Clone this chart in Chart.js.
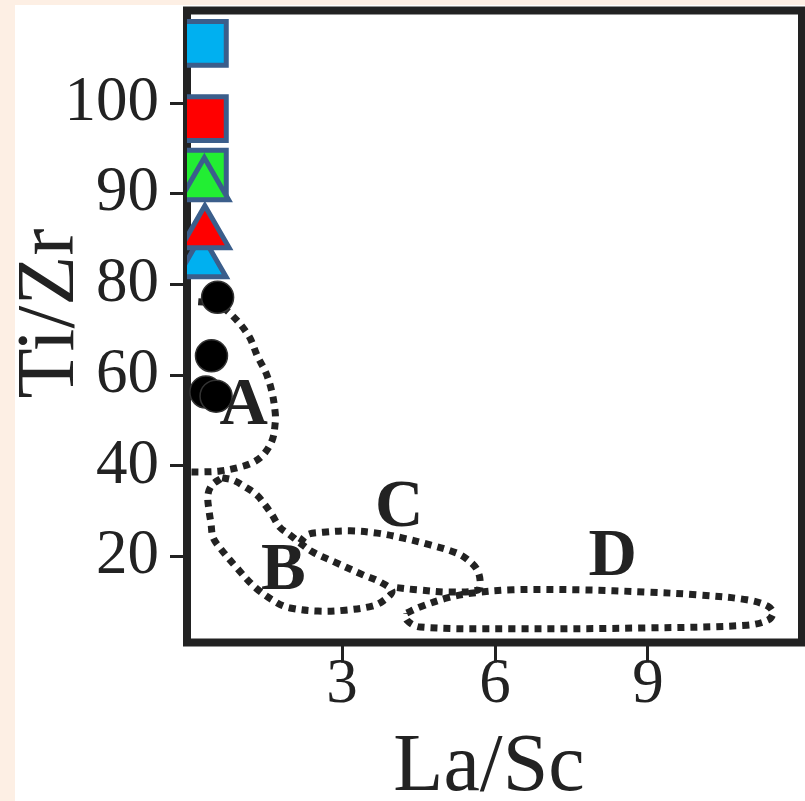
<!DOCTYPE html>
<html>
<head>
<meta charset="utf-8">
<script src="https://cdn.jsdelivr.net/npm/chart.js@4.4.1/dist/chart.umd.min.js"></script>
<style>
  html, body { margin: 0; padding: 0; background: #fdefe4; }
  #wrap { position: absolute; left: 15px; top: 5px; width: 790px; height: 796px; background: #fff; }
</style>
</head>
<body>
<div id="wrap"><canvas id="chart" width="790" height="796"></canvas></div>
<script>
// La/Sc (x) vs Ti/Zr (y); y axis is 20 per step up to 80, then 10 per step
const xTicks = [3, 6, 9];
const yTicks = [20, 40, 60, 80, 90, 100];

const circleX = [0.56, 0.44, 0.33, 0.53];
const circleY = [77.2, 64.3, 56.3, 55.4];

const squareX = [0.30, 0.30, 0.30];
const squareY = [106.6, 98.3, 92.4];
const squareColors = ['#00b0f0', '#ff0000', '#22ee33'];

// drawn in this order, last one on top
const triangleX = [0.25, 0.31, 0.30];
const triangleY = [82.4, 85.6, 90.9];
const triangleColors = ['#00b0f0', '#ff0000', '#22ee33'];

const fieldNames = ['A', 'B', 'C', 'D'];
const fieldLabelX = [1.07, 1.85, 4.12, 8.31];
const fieldLabelY = [53.1, 16.7, 30.6, 19.8];

const fieldA = [[0.18, 76.2], [0.51, 75.9], [0.80, 73.7], [1.16, 68.9], [1.35, 64.0], [1.51, 60.5],
  [1.63, 56.1], [1.69, 51.7], [1.69, 49.5], [1.63, 45.7], [1.45, 42.4], [1.24, 40.7],
  [0.94, 39.6], [0.61, 38.9], [0.27, 38.7], [0.02, 38.7]];
const fieldB = [[0.65, 37.4], [0.86, 36.9], [1.10, 35.4], [1.33, 33.6], [1.49, 31.4], [1.63, 29.2],
  [1.78, 26.5], [1.98, 24.8], [2.18, 23.0], [2.43, 21.0], [2.86, 18.8], [3.41, 16.0],
  [3.75, 14.4], [3.98, 12.4], [3.80, 10.2], [3.59, 9.1], [3.06, 8.2], [2.53, 8.0],
  [1.98, 8.7], [1.73, 9.8], [1.31, 13.1], [0.94, 17.5], [0.61, 21.9], [0.47, 24.3],
  [0.43, 27.4], [0.39, 30.3], [0.37, 33.6], [0.45, 35.8], [0.65, 37.4]];
const fieldC = [[2.18, 23.0], [2.31, 24.8], [2.63, 25.4], [3.16, 25.7], [3.69, 25.2], [4.20, 24.1],
  [4.73, 22.6], [5.25, 20.8], [5.47, 19.3], [5.65, 17.1], [5.71, 14.4], [5.67, 12.7],
  [5.12, 12.2], [4.47, 12.7], [4.06, 13.2]];
const fieldD = [[4.27, 7.6], [4.53, 8.9], [5.06, 10.9], [5.57, 12.0], [6.35, 12.7], [7.67, 12.7],
  [8.98, 12.2], [9.96, 11.6], [10.94, 10.5], [11.35, 9.1], [11.45, 7.6], [11.35, 6.0],
  [10.94, 4.9], [8.98, 4.3], [6.35, 4.1], [4.53, 4.5], [4.27, 6.0], [4.27, 7.6]];

const yPos = v => v <= 80 ? v / 20 : 4 + (v - 80) / 10;
const pts = (xs, ys) => xs.map((x, i) => ({ x, y: yPos(ys[i]) }));
const pairs = arr => arr.map(p => ({ x: p[0], y: yPos(p[1]) }));

const INK = '#222';
const EDGE = '#3b5e8b';

function outline(data) {
  return {
    data: pairs(data),
    showLine: true,
    pointRadius: 0,
    borderColor: INK,
    borderWidth: 7,
    borderDash: [7, 6],
    borderCapStyle: 'butt',
    tension: 0.35,
    fill: false,
  };
}

// the labels never sit at the axis ends, so no extra room is needed for them
function noPadding(s) {
  s.paddingLeft = s.paddingRight = s.paddingTop = s.paddingBottom = 0;
}

const frameAndText = {
  id: 'frameAndText',
  beforeDatasetsDraw(chart) {
    const { ctx, chartArea: a } = chart;
    ctx.save();
    ctx.strokeStyle = INK;
    ctx.lineWidth = 8;
    ctx.strokeRect(a.left, a.top, a.right - a.left, a.bottom - a.top);
    ctx.restore();
  },
  afterDatasetsDraw(chart) {
    const { ctx, scales } = chart;
    ctx.save();
    ctx.fillStyle = INK;
    ctx.textAlign = 'center';
    ctx.textBaseline = 'middle';
    ctx.font = 'bold 67px "Liberation Serif"';
    fieldNames.forEach((n, i) => {
      ctx.fillText(n, scales.x.getPixelForValue(fieldLabelX[i]),
        scales.y.getPixelForValue(yPos(fieldLabelY[i])));
    });
    ctx.font = '82px "Liberation Serif"';
    ctx.textBaseline = 'alphabetic';
    ctx.fillText('La/Sc', 474, 785);
    ctx.translate(58, 308.5);
    ctx.rotate(-Math.PI / 2);
    ctx.fillText('Ti/Zr', 0, 0);
    ctx.restore();
  }
};

const tickFont = { family: '"Liberation Serif"', size: 63, lineHeight: 1 };

new Chart(document.getElementById('chart'), {
  type: 'scatter',
  data: {
    datasets: [
      {
        data: pts(triangleX, triangleY),
        pointStyle: 'triangle',
        pointRadius: 28,
        backgroundColor: triangleColors,
        borderColor: EDGE,
        borderWidth: 5,
      },
      {
        data: pts(squareX, squareY),
        pointStyle: 'rect',
        pointRadius: 31,
        backgroundColor: squareColors,
        borderColor: EDGE,
        borderWidth: 5,
      },
      {
        data: pts(circleX, circleY),
        pointStyle: 'circle',
        pointRadius: 16,
        backgroundColor: '#000',
        borderColor: '#333',
        borderWidth: 1.5,
      },
      outline(fieldA),
      outline(fieldB),
      outline(fieldC),
      outline(fieldD),
    ]
  },
  options: {
    responsive: false,
    animation: false,
    events: [],
    layout: { autoPadding: false, padding: { top: 5.5, right: 3, left: 0, bottom: 0 } },
    plugins: { legend: { display: false }, tooltip: { enabled: false } },
    scales: {
      x: {
        type: 'linear',
        min: -0.04,
        max: 12.02,
        afterFit: s => { s.height = 158.5; noPadding(s); },
        afterBuildTicks: s => { s.ticks = xTicks.map(v => ({ value: v })); },
        grid: { drawOnChartArea: false, drawTicks: true, tickLength: 20, tickWidth: 3, tickColor: INK },
        border: { display: false },
        ticks: { font: tickFont, color: INK, padding: -9, maxRotation: 0 },
      },
      y: {
        type: 'linear',
        min: 0.054,
        max: 7.022,
        afterFit: s => { s.width = 172; noPadding(s); },
        afterBuildTicks: s => { s.ticks = yTicks.map(v => ({ value: yPos(v) })); },
        grid: { drawOnChartArea: false, drawTicks: true, tickLength: 17, tickWidth: 3, tickColor: INK },
        border: { display: false },
        ticks: {
          font: tickFont,
          color: INK,
          padding: 11,
          callback: val => {
            const i = yTicks.findIndex(t => Math.abs(yPos(t) - val) < 1e-6);
            return i >= 0 ? String(yTicks[i]) : '';
          }
        },
      }
    }
  },
  plugins: [frameAndText]
});
</script>
</body>
</html>
